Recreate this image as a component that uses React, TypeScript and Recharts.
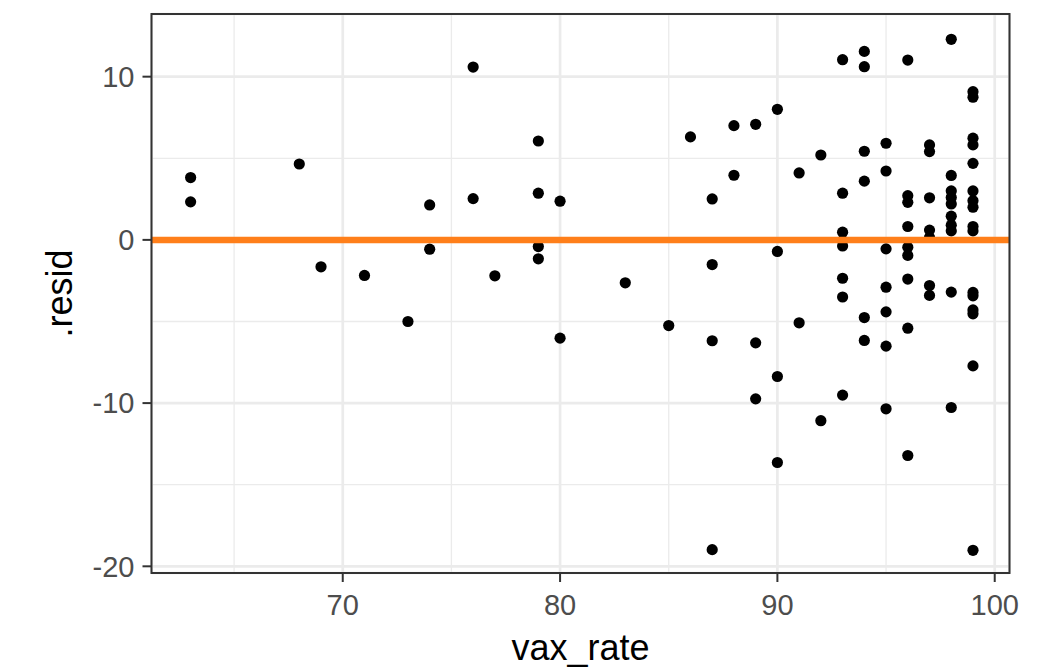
import React from "react";
import {
  ScatterChart,
  Scatter,
  XAxis,
  YAxis,
  CartesianGrid,
  ReferenceLine,
  ReferenceArea,
  Label,
} from "recharts";

// Data (vax_rate, .resid)
const vaxRate: number[] = [
  63, 63,
  68,
  69,
  71,
  73,
  74, 74,
  76, 76,
  77,
  79, 79, 79, 79,
  80, 80,
  83,
  85,
  86,
  87, 87, 87, 87,
  88, 88,
  89, 89, 89,
  90, 90, 90, 90,
  91, 91,
  92, 92,
  93, 93, 93, 93, 93, 93, 93,
  94, 94, 94, 94, 94, 94,
  95, 95, 95, 95, 95, 95, 95,
  96, 96, 96, 96, 96, 96, 96, 96, 96,
  97, 97, 97, 97, 97, 97, 97,
  98, 98, 98, 98, 98, 98, 98, 98, 98, 98,
  99, 99, 99, 99, 99, 99, 99, 99, 99, 99, 99, 99, 99, 99, 99, 99,
];

const resid: number[] = [
  3.82, 2.33,
  4.65,
  -1.65,
  -2.18,
  -5.0,
  2.14, -0.57,
  10.59, 2.53,
  -2.2,
  6.06, 2.86, -0.41, -1.16,
  2.37, -6.02,
  -2.63,
  -5.25,
  6.31,
  2.51, -1.51, -6.18, -18.98,
  7.0, 3.96,
  7.08, -6.31, -9.74,
  8.0, -0.71, -8.37, -13.64,
  4.1, -5.08,
  5.2, -11.08,
  11.04, 2.86, 0.47, -0.37, -2.35, -3.5, -9.51,
  11.55, 10.61, 5.43, 3.6, -4.76, -6.16,
  5.92, 4.22, -0.55, -2.9, -4.41, -6.51, -10.35,
  11.02, 2.71, 2.3, 0.82, -0.45, -0.95, -2.4, -5.41, -13.21,
  5.82, 5.41, 2.58, 0.6, 0.15, -2.8, -3.4,
  12.29, 3.95, 3.0, 2.6, 2.2, 1.45, 0.9, 0.55, -3.2, -10.27,
  9.08, 8.74, 6.23, 5.82, 4.69, 3.0, 2.4, 2.0, 0.82, 0.55, -3.22, -3.43, -4.29, -4.53, -7.72, -19.02,
];

const xTicks: number[] = [70, 80, 90, 100];
const yTicks: number[] = [-20, -10, 0, 10];
const xMinor: number[] = [65, 75, 85, 95];
const yMinor: number[] = [-15, -5, 5];
const xDomain: [number, number] = [61.2, 100.68];
const yDomain: [number, number] = [-20.41, 13.84];

const points = vaxRate.map((x, i) => ({ x, y: resid[i] }));

const FONT = "'Liberation Sans', Arial, Helvetica, sans-serif";
const GRID = "#EBEBEB";
const DARK = "#333333";
const TICK_TEXT = "#4D4D4D";
const ORANGE = "#FF7F1A";

const Dot = (props: any) => {
  const { cx, cy } = props;
  if (cx == null || cy == null) return null;
  return <circle cx={cx} cy={cy} r={5.6} fill="#000000" />;
};

const YTitle = (props: any) => {
  const vb = props.viewBox || {};
  const cy = (vb.y ?? 0) + (vb.height ?? 0) / 2;
  const x = 72;
  return (
    <text
      x={x}
      y={cy}
      transform={`rotate(-90, ${x}, ${cy})`}
      textAnchor="middle"
      fontSize={36}
      fontFamily={FONT}
      fill="#000000"
    >
      .resid
    </text>
  );
};

export default function App() {
  return (
    <div style={{ position: "absolute", left: 0, top: 0, background: "#ffffff" }}>
      <ScatterChart
        width={1045}
        height={667}
        margin={{ top: 14, right: 35.5, bottom: 0, left: 0 }}
        style={{ fontFamily: FONT }}
      >
        <CartesianGrid stroke={GRID} strokeWidth={2.7} />
        {xMinor.map((v) => (
          <ReferenceLine key={"xm" + v} x={v} stroke={GRID} strokeWidth={1.3} />
        ))}
        {yMinor.map((v) => (
          <ReferenceLine key={"ym" + v} y={v} stroke={GRID} strokeWidth={1.3} />
        ))}
        <XAxis
          type="number"
          dataKey="x"
          domain={xDomain}
          ticks={xTicks}
          allowDataOverflow
          height={94}
          axisLine={false}
          tickSize={9}
          tickMargin={12}
          tickLine={{ stroke: DARK, strokeWidth: 2 }}
          tick={{ fill: TICK_TEXT, fontSize: 29, fontFamily: FONT }}
          interval={0}
        >
          <Label
            value="vax_rate"
            position="insideBottom"
            offset={7}
            fontSize={36}
            fontFamily={FONT}
            fill="#000000"
          />
        </XAxis>
        <YAxis
          type="number"
          dataKey="y"
          domain={yDomain}
          ticks={yTicks}
          allowDataOverflow
          width={151.5}
          axisLine={false}
          tickSize={9}
          tickMargin={8}
          tickLine={{ stroke: DARK, strokeWidth: 2 }}
          tick={{ fill: TICK_TEXT, fontSize: 29, fontFamily: FONT }}
          interval={0}
          label={{ content: (p: any) => <YTitle {...p} /> }}
        />
        <Scatter data={points} shape={<Dot />} isAnimationActive={false} />
        <ReferenceLine y={0} stroke={ORANGE} strokeWidth={6.5} zIndex={700} />
        <ReferenceArea
          x1={xDomain[0]}
          x2={xDomain[1]}
          y1={yDomain[0]}
          y2={yDomain[1]}
          fill="none"
          fillOpacity={0}
          stroke={DARK}
          strokeWidth={2}
          zIndex={800}
        />
      </ScatterChart>
    </div>
  );
}
